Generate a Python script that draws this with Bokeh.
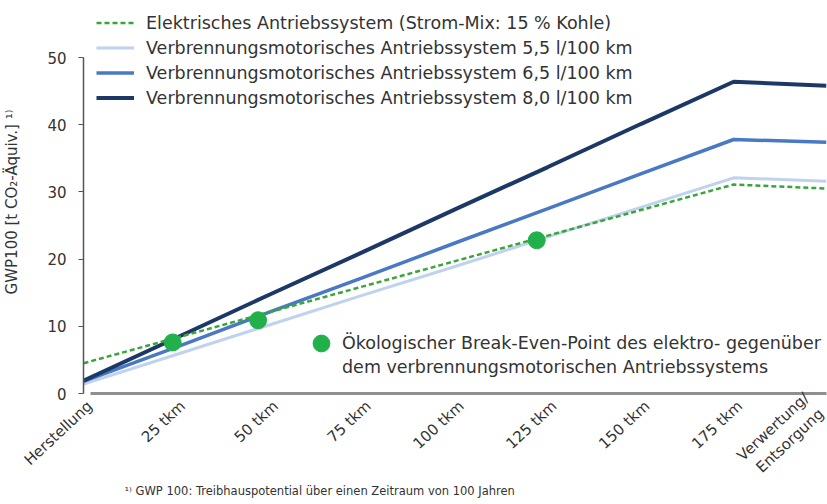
from bokeh.plotting import figure
from bokeh.models import Legend, LegendItem, FixedTicker, Range1d, Title
from bokeh.embed import file_html
from bokeh.resources import INLINE

# ---- data -------------------------------------------------------------
categories = ["Herstellung", "25 tkm", "50 tkm", "75 tkm", "100 tkm",
              "125 tkm", "150 tkm", "175 tkm", "Verwertung/\nEntsorgung"]
elektro = [4.5, 8.3, 12.1, 15.9, 19.7, 23.5, 27.3, 31.1, 30.5]
vm_55 = [1.4, 5.8, 10.2, 14.6, 18.9, 23.3, 27.7, 32.1, 31.6]
vm_65 = [1.8, 6.9, 12.1, 17.2, 22.4, 27.5, 32.7, 37.8, 37.4]
vm_80 = [1.9, 8.3, 14.7, 21.0, 27.4, 33.7, 40.1, 46.4, 45.8]
break_even_km = [24, 47, 122]
break_even_gwp = [7.6, 10.9, 22.8]
km_per_step = 25
y_ticks = [0, 10, 20, 30, 40, 50]

series_labels = [
    "Elektrisches Antriebssystem (Strom-Mix: 15 % Kohle)",
    "Verbrennungsmotorisches Antriebssystem 5,5 l/100 km",
    "Verbrennungsmotorisches Antriebssystem 6,5 l/100 km",
    "Verbrennungsmotorisches Antriebssystem 8,0 l/100 km",
]
break_even_line1 = "Ökologischer Break-Even-Point des elektro- gegenüber"
break_even_line2 = "dem verbrennungsmotorischen Antriebssystems"
footnote = "¹⁾ GWP 100: Treibhauspotential über einen Zeitraum von 100 Jahren"
y_label = "GWP100 [t CO₂-Äquiv.] ¹⁾"

x = list(range(len(categories)))
be_x = [k / km_per_step for k in break_even_km]
x_end = len(categories) - 1
label_shift = 0.07
tick_pos = [min(i + label_shift, x_end - 0.005) for i in x]

FONT = "DejaVu Sans"
TXT = "#333333"

p = figure(width=827, height=504,
           x_range=Range1d(0, x_end), y_range=Range1d(0, 57),
           output_backend="svg", toolbar_location=None,
           min_border_left=82, min_border_right=1,
           min_border_top=10, min_border_bottom=111)
p.outline_line_color = None
p.xgrid.grid_line_color = None
p.ygrid.grid_line_color = None
p.background_fill_color = "white"

r55 = p.line(x, vm_55, line_color="#bfd2ee", line_width=3)
r65 = p.line(x, vm_65, line_color="#4a79c3", line_width=3.5)
r80 = p.line(x, vm_80, line_color="#1c3867", line_width=4)
rel = p.line(x, elektro, line_color="#3aa53a", line_width=2.5, line_dash="5 3")
rbe = p.scatter(be_x, break_even_gwp, size=17, fill_color="#22b04b",
                line_color="#22b04b")
rblank = p.line([], [], line_alpha=0)

# axes
xa = p.xaxis[0]
xa.ticker = FixedTicker(ticks=tick_pos)
xa.major_label_overrides = {t: c for t, c in zip(tick_pos, categories)}
xa.major_label_orientation = 0.75
xa.major_tick_line_color = None
xa.minor_tick_line_color = None
xa.axis_line_width = 3
xa.axis_line_color = "#8f8f8f"
xa.bounds = (0.07, x_end)
xa.major_label_text_font = FONT
xa.major_label_text_font_size = "15px"
xa.major_label_text_color = TXT
xa.major_label_standoff = 4

ya = p.yaxis[0]
ya.ticker = FixedTicker(ticks=y_ticks)
ya.bounds = (0, 50)
ya.minor_tick_line_color = None
ya.major_tick_in = 0
ya.major_tick_out = 5
ya.axis_line_color = "#555555"
ya.major_tick_line_color = "#555555"
ya.axis_line_width = 1.5
ya.major_label_text_font = FONT
ya.major_label_text_font_size = "15px"
ya.major_label_text_color = TXT
ya.major_label_standoff = 12
ya.axis_label = y_label
ya.axis_label_text_font = FONT
ya.axis_label_text_font_size = "15px"
ya.axis_label_text_font_style = "normal"
ya.axis_label_text_color = TXT
ya.axis_label_standoff = 23

legend = Legend(items=[
    LegendItem(label=series_labels[0], renderers=[rel]),
    LegendItem(label=series_labels[1], renderers=[r55]),
    LegendItem(label=series_labels[2], renderers=[r65]),
    LegendItem(label=series_labels[3], renderers=[r80]),
], location=(13, 283))
legend_be1 = Legend(items=[LegendItem(label=break_even_line1, renderers=[rbe])],
                    location=(217, 29))
legend_be2 = Legend(items=[LegendItem(label=break_even_line2, renderers=[rblank])],
                    location=(217, 15))
for lg in (legend, legend_be1, legend_be2):
    lg.border_line_color = None
    lg.background_fill_alpha = 0
    lg.padding = 0
    lg.margin = 0
    lg.spacing = 0
    lg.label_text_font = FONT
    lg.label_text_font_size = "17.5px"
    lg.label_text_color = TXT
legend.glyph_width = 38
legend.glyph_height = 25
legend.label_height = 25
legend.label_standoff = 12
legend_be1.glyph_width = 42
legend_be1.glyph_height = 42
legend_be1.label_standoff = 0
legend_be2.glyph_width = 42
legend_be2.glyph_height = 23
legend_be2.label_height = 23
legend_be2.label_standoff = 0
p.add_layout(legend)
p.add_layout(legend_be1)
p.add_layout(legend_be2)

p.add_layout(Title(text=footnote, align="left", offset=41, standoff=-28,
                   vertical_align="top",
                   text_font=FONT, text_font_size="11.5px",
                   text_font_style="normal", text_color=TXT), "below")

open("out.html", "w").write(file_html(p, INLINE))
